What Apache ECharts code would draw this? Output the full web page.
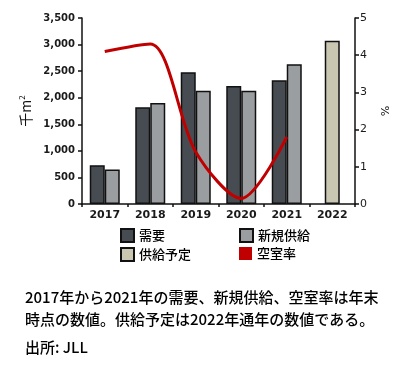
<!DOCTYPE html>
<html><head><meta charset="utf-8">
<script src="https://cdn.jsdelivr.net/npm/echarts@6/dist/echarts.min.js"></script>
<style>html,body{margin:0;padding:0;background:#fff}#c{width:400px;height:366px}</style>
</head><body><div id="c"></div>
<script>
const categories = ['2017','2018','2019','2020','2021','2022'];
const demand = [730, 1820, 2480, 2220, 2330, null];
const newSupply = [650, 1900, 2130, 2130, 2630, null];
const plannedSupply = [null, null, null, null, null, 3070];
const vacancy = [4.1, 4.3, 1.4, 0.15, 1.8, null];
const leftTicks = {min: 0, max: 3500, interval: 500};
const rightTicks = {min: 0, max: 5, interval: 1};
const footnote = ['2017年から2021年の需要、新規供給、空室率は年末', '時点の数値。供給予定は2022年通年の数値である。', '出所: JLL'];

const chart = echarts.init(document.getElementById('c'), null, {renderer: 'canvas'});
const axisFont = {fontFamily: 'DejaVu Sans', fontSize: 10, fontWeight: 'bold', color: '#1a1a1a'};
const cjk = "'Noto Sans CJK JP'";
const axLine = {show: true, lineStyle: {color: '#111', width: 1.5}};
const legendBase = (name, left, top) => ({
  data: [name], left: left, top: top, itemWidth: 13, itemHeight: 13, icon: 'rect',
  textStyle: {fontFamily: cjk, fontSize: 13, color: '#000', fontWeight: 500}, itemGap: 5, padding: 0
});
chart.setOption({
  animation: false,
  grid: {left: 82, right: 45, top: 18, bottom: 162},
  legend: [
    legendBase('需要', 120, 228),
    legendBase('新規供給', 239, 228),
    legendBase('供給予定', 120, 247),
    legendBase('空室率', 239, 247)
  ],
  xAxis: [{
    type: 'category', data: categories,
    axisLine: axLine,
    axisTick: {show: true, length: 3, lineStyle: {color: '#111', width: 1.5}},
    axisLabel: Object.assign({margin: 6}, axisFont, {fontSize: 11})
  }, {
    type: 'category', data: categories, show: false
  }],
  yAxis: [{
    type: 'value', min: leftTicks.min, max: leftTicks.max, interval: leftTicks.interval,
    name: '{a|千m}{b|2}', nameLocation: 'middle', nameGap: 41, nameRotate: 90,
    nameTextStyle: {rich: {a: {fontFamily: cjk, fontSize: 14, color: '#111'}, b: {fontFamily: cjk, fontSize: 8, color: '#111', verticalAlign: 'top', padding: [0,0,7,0]}}},
    axisLine: axLine,
    axisTick: {show: true, length: 4, lineStyle: {color: '#111', width: 1.5}},
    splitLine: {show: false},
    axisLabel: Object.assign({margin: 7, formatter: v => v.toLocaleString('en-US')}, axisFont)
  }, {
    type: 'value', min: rightTicks.min, max: rightTicks.max, interval: rightTicks.interval,
    name: '%', nameLocation: 'middle', nameGap: 22, nameRotate: -90,
    nameTextStyle: {fontFamily: 'DejaVu Sans', fontSize: 11, color: '#111'},
    axisLine: axLine,
    axisTick: {show: true, length: 4, lineStyle: {color: '#111', width: 1.5}},
    splitLine: {show: false},
    axisLabel: Object.assign({margin: 5}, axisFont, {fontSize: 11, fontWeight: 'normal'})
  }],
  series: [{
    name: '需要', type: 'bar', data: demand, barWidth: 15, barGap: '0%',
    itemStyle: {color: '#464c51', borderColor: '#111', borderWidth: 1.5}
  }, {
    name: '新規供給', type: 'bar', data: newSupply, barWidth: 15, barGap: '0%',
    itemStyle: {color: '#9b9ea0', borderColor: '#111', borderWidth: 1.5}
  }, {
    name: '供給予定', type: 'bar', data: plannedSupply, barWidth: 15, xAxisIndex: 1,
    itemStyle: {color: '#c9c6b2', borderColor: '#111', borderWidth: 1.5}
  }, {
    name: '空室率', type: 'line', data: vacancy, yAxisIndex: 1, smooth: 0.3,
    showSymbol: false, symbol: 'none', z: 5,
    lineStyle: {color: '#c00000', width: 3}, itemStyle: {color: '#c00000'}
  }],
  graphic: footnote.map((t, i) => ({
    type: 'text', left: 25, top: [290, 312, 340][i],
    style: {text: t, font: '500 15px ' + cjk, fill: '#000'}
  }))
});
</script></body></html>
